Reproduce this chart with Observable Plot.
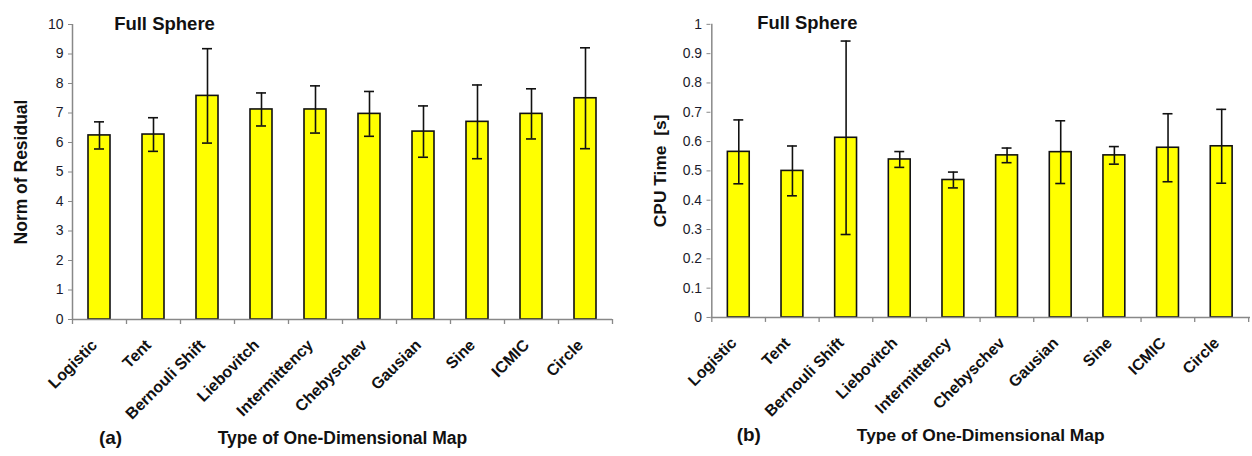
<!DOCTYPE html>
<html>
<head>
<meta charset="utf-8">
<script src="https://cdn.jsdelivr.net/npm/d3@7"></script>
<script src="https://cdn.jsdelivr.net/npm/@observablehq/plot@0.6"></script>
<style>
  html, body { margin: 0; padding: 0; background: #fff; }
  body { width: 1252px; height: 456px; overflow: hidden; position: relative; font-family: "Liberation Sans", Arial, sans-serif; }
  .panel { position: absolute; top: 0; }
</style>
</head>
<body>
<div id="a" class="panel" style="left:0px"></div>
<div id="b" class="panel" style="left:626px"></div>
<script>
// ---- data ----
const maps = ["Logistic", "Tent", "Bernouli Shift", "Liebovitch", "Intermittency", "Chebyschev", "Gausian", "Sine", "ICMIC", "Circle"];
const residualMean = [6.24, 6.27, 7.58, 7.12, 7.12, 6.97, 6.37, 6.70, 6.97, 7.50];
const residualErr  = [0.46, 0.57, 1.60, 0.56, 0.80, 0.76, 0.87, 1.25, 0.85, 1.71];
const cpuMean = [0.565, 0.500, 0.613, 0.539, 0.469, 0.553, 0.564, 0.553, 0.579, 0.584];
const cpuErr  = [0.109, 0.085, 0.330, 0.027, 0.027, 0.025, 0.107, 0.030, 0.116, 0.126];
const residualTicks = d3.range(0, 11, 1);
const cpuTicks = d3.ticks(0, 1, 10);

function panel({means, errs, yDomain, yTicks, yLabel, tag, width, marginLeft, marginRight, titleDx}) {
  const rows = maps.map((m, i) => ({map: m, value: means[i], err: errs[i]}));
  const height = 456, marginTop = 24, marginBottom = 137;
  const innerW = width - marginLeft - marginRight;
  const innerH = height - marginTop - marginBottom;
  const step = innerW / maps.length;
  const ink = "#111";
  return Plot.plot({
    width, height, marginLeft, marginRight, marginTop, marginBottom,
    style: {fontFamily: '"Liberation Sans", Arial, sans-serif', fontSize: "14px", color: "#1a1a2a", background: "#fff"},
    x: {domain: maps, paddingInner: 0.59, paddingOuter: 0.295, align: 0.5},
    y: {domain: yDomain},
    marks: [
      Plot.barY(rows, {x: "map", y: "value", fill: "#ffff00", stroke: ink, strokeWidth: 1.6}),
      Plot.ruleX(rows, {x: "map", y1: d => d.value - d.err, y2: d => d.value + d.err, stroke: ink, strokeWidth: 1.6}),
      Plot.tickY(rows, {x: "map", y: d => d.value + d.err, insetLeft: 6, insetRight: 6, stroke: ink, strokeWidth: 1.6}),
      Plot.tickY(rows, {x: "map", y: d => d.value - d.err, insetLeft: 6, insetRight: 6, stroke: ink, strokeWidth: 1.6}),
      // axis lines
      Plot.ruleY([yDomain[0]], {stroke: "#888", strokeWidth: 1.5}),
      Plot.ruleX([maps[0]], {x: d => d, dx: -step / 2, stroke: "#888", strokeWidth: 1.5}),
      // category boundary ticks
      Plot.ruleX(maps, {x: d => d, dx: -step / 2, insetTop: innerH, insetBottom: -5, stroke: "#888", strokeWidth: 1.3}),
      Plot.ruleX([maps[maps.length - 1]], {x: d => d, dx: step / 2, insetTop: innerH, insetBottom: -5, stroke: "#888", strokeWidth: 1.3}),
      Plot.axisY({ticks: yTicks, tickFormat: d => String(d), tickSize: 4, tickPadding: 5, label: null, stroke: "#888", fontSize: 14}),
      Plot.axisX({tickSize: 0, tickPadding: 23, dx: -5, tickRotate: -45, label: null, fontSize: 16, fontWeight: "bold", fill: "#111"}),
      Plot.text([yLabel], {frameAnchor: "left", textAnchor: "middle", dx: -51, rotate: -90, fontWeight: "bold", fontSize: 17.5, fill: "#111"}),
      Plot.text(["Full Sphere"], {frameAnchor: "top-left", dx: titleDx, dy: -8, textAnchor: "middle", fontWeight: "bold", fontSize: 18.5, fill: "#111"}),
      Plot.text([tag], {frameAnchor: "bottom-left", dx: 38, dy: 124, textAnchor: "middle", fontWeight: "bold", fontSize: 19, fill: "#111"}),
      Plot.text(["Type of One-Dimensional Map"], {frameAnchor: "bottom", textAnchor: "middle", dy: 124, fontWeight: "bold", fontSize: 17.5, fill: "#111"})
    ]
  });
}

document.getElementById("a").append(panel({
  means: residualMean, errs: residualErr, yDomain: [0, 10], yTicks: residualTicks,
  yLabel: "Norm of Residual", tag: "(a)", width: 626, marginLeft: 72, marginRight: 14, titleDx: 92
}));
document.getElementById("b").append(panel({
  means: cpuMean, errs: cpuErr, yDomain: [0, 1], yTicks: cpuTicks,
  yLabel: "CPU Time  [s]", tag: "(b)", width: 630, marginLeft: 85, marginRight: 2, titleDx: 97
}));
</script>
</body>
</html>
